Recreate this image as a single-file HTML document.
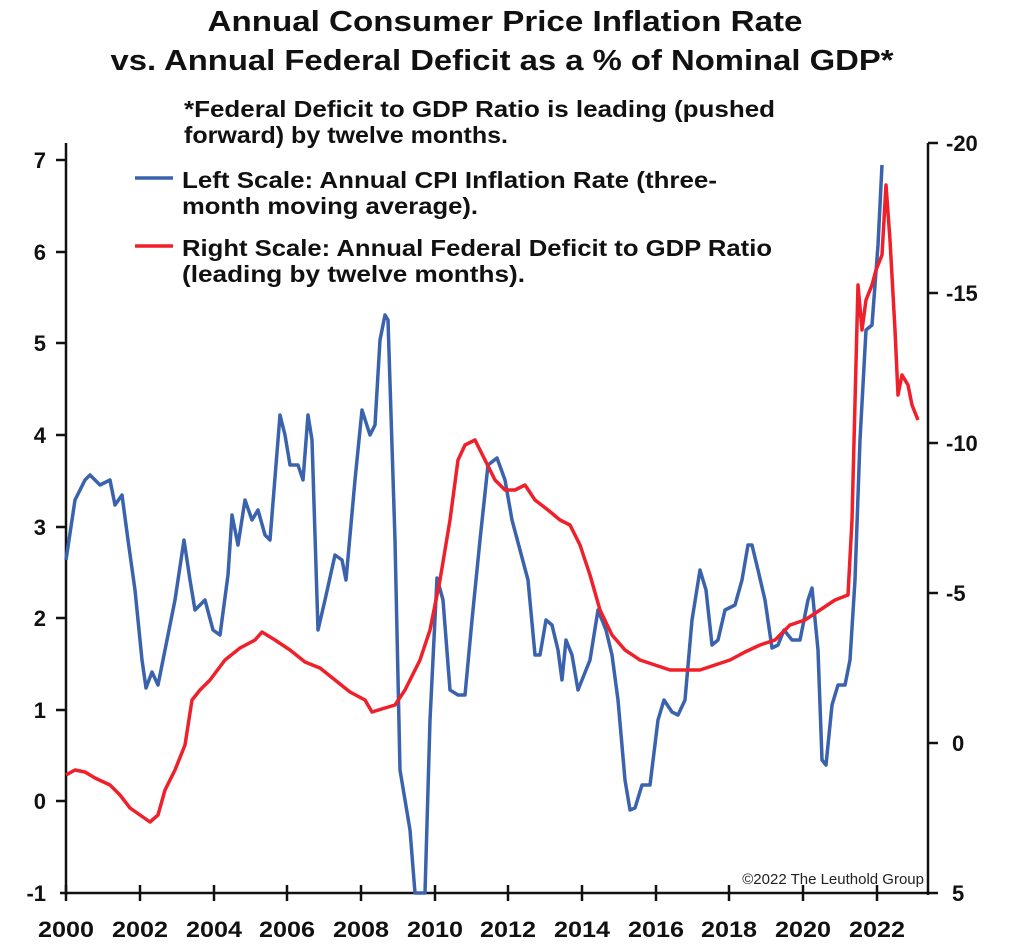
<!DOCTYPE html><html><head><style>body{margin:0;background:#fff}svg{display:block}</style></head><body>
<svg width="1024" height="951" xmlns="http://www.w3.org/2000/svg" font-family="Liberation Sans, sans-serif">
<text x="505" y="31" text-anchor="middle" font-size="29" font-weight="bold" fill="#111" textLength="595" lengthAdjust="spacingAndGlyphs">Annual Consumer Price Inflation Rate</text>
<text x="502" y="70" text-anchor="middle" font-size="29" font-weight="bold" fill="#111" textLength="783" lengthAdjust="spacingAndGlyphs">vs. Annual Federal Deficit as a % of Nominal GDP*</text>
<text x="184" y="117" font-size="23" font-weight="bold" fill="#111" textLength="591" lengthAdjust="spacingAndGlyphs">*Federal Deficit to GDP Ratio is leading (pushed</text>
<text x="184" y="143" font-size="23" font-weight="bold" fill="#111" textLength="324" lengthAdjust="spacingAndGlyphs">forward) by twelve months.</text>
<line x1="135" y1="178" x2="173" y2="178" stroke="#3a62ad" stroke-width="3.5"/>
<text x="182" y="188" font-size="23" font-weight="bold" fill="#111" textLength="535" lengthAdjust="spacingAndGlyphs">Left Scale: Annual CPI Inflation Rate (three-</text>
<text x="182" y="214" font-size="23" font-weight="bold" fill="#111" textLength="296" lengthAdjust="spacingAndGlyphs">month moving average).</text>
<line x1="135" y1="246" x2="173" y2="246" stroke="#f0202a" stroke-width="3.5"/>
<text x="182" y="256" font-size="23" font-weight="bold" fill="#111" textLength="590" lengthAdjust="spacingAndGlyphs">Right Scale: Annual Federal Deficit to GDP Ratio</text>
<text x="182" y="282" font-size="23" font-weight="bold" fill="#111" textLength="343" lengthAdjust="spacingAndGlyphs">(leading by twelve months).</text>
<g stroke="#111" stroke-width="2.5" fill="none">
<line x1="66" y1="143" x2="66" y2="895"/><line x1="928" y1="143" x2="928" y2="895"/>
<line x1="60" y1="893" x2="938" y2="893"/>
<path d="M56 160h10M56 252h10M56 343h10M56 435h10M56 527h10M56 618h10M56 710h10M56 801h10"/>
<path d="M928 143h10M928 293h10M928 443h10M928 593h10M928 743h10"/>
<path d="M66 885v16M140 885v16M214 885v16M287 885v16M361 885v16M435 885v16M508 885v16M582 885v16M656 885v16M729 885v16M803 885v16M877 885v16"/>
</g>
<g font-size="22" font-weight="bold" fill="#111" text-anchor="end">
<text x="46" y="168">7</text><text x="46" y="260">6</text><text x="46" y="351">5</text><text x="46" y="443">4</text><text x="46" y="535">3</text><text x="46" y="626">2</text><text x="46" y="718">1</text><text x="46" y="809">0</text><text x="46" y="901">-1</text>
</g>
<g font-size="22" font-weight="bold" fill="#111">
<text x="946" y="151">-20</text><text x="946" y="301">-15</text><text x="946" y="451">-10</text><text x="946" y="601">-5</text><text x="952" y="751">0</text><text x="952" y="901">5</text>
</g>
<g font-size="22" font-weight="bold" fill="#111" text-anchor="middle">
<text x="66" y="937" textLength="56" lengthAdjust="spacingAndGlyphs">2000</text><text x="140" y="937" textLength="56" lengthAdjust="spacingAndGlyphs">2002</text><text x="214" y="937" textLength="56" lengthAdjust="spacingAndGlyphs">2004</text><text x="287" y="937" textLength="56" lengthAdjust="spacingAndGlyphs">2006</text><text x="361" y="937" textLength="56" lengthAdjust="spacingAndGlyphs">2008</text><text x="435" y="937" textLength="56" lengthAdjust="spacingAndGlyphs">2010</text><text x="508" y="937" textLength="56" lengthAdjust="spacingAndGlyphs">2012</text><text x="582" y="937" textLength="56" lengthAdjust="spacingAndGlyphs">2014</text><text x="656" y="937" textLength="56" lengthAdjust="spacingAndGlyphs">2016</text><text x="729" y="937" textLength="56" lengthAdjust="spacingAndGlyphs">2018</text><text x="803" y="937" textLength="56" lengthAdjust="spacingAndGlyphs">2020</text><text x="877" y="937" textLength="56" lengthAdjust="spacingAndGlyphs">2022</text>
</g>
<text x="924" y="884" text-anchor="end" font-size="15" fill="#222">©2022 The Leuthold Group</text>
<polyline fill="none" stroke="#3a62ad" stroke-width="3.5" stroke-linejoin="round" points="66,560 75,500 85,480 90,475 100,485 110,480 115,505 122,495 128,540 135,590 142,660 146,688 152,672 158,685 165,650 175,600 184,540 190,580 195,610 205,600 213,630 220,635 228,575 232,515 238,545 245,500 252,520 258,510 265,535 270,540 280,415 285,435 290,465 298,465 303,480 308,415 312,440 318,630 325,600 335,555 342,560 346,580 355,480 362,410 370,435 375,425 380,340 385,315 388,320 395,540 400,770 405,800 410,830 415,893 425,893 430,720 437,578 443,600 450,690 458,695 465,695 472,620 480,540 488,465 497,458 505,480 512,520 520,550 528,580 535,655 540,655 546,620 552,625 558,650 562,680 566,640 572,655 578,690 582,680 590,660 598,610 606,630 612,655 618,700 625,780 630,810 635,808 642,785 650,785 658,720 664,700 672,712 678,715 685,700 692,620 700,570 706,590 712,645 718,640 725,610 735,605 742,580 748,545 752,545 758,570 765,600 772,648 778,645 784,630 792,640 800,640 808,600 812,588 818,650 822,760 826,765 832,705 838,685 845,685 850,660 855,580 860,440 866,330 872,325 878,245 882,165"/>
<polyline fill="none" stroke="#f0202a" stroke-width="3.5" stroke-linejoin="round" points="66,775 75,770 85,772 95,778 110,785 120,795 130,808 140,815 150,822 158,815 165,790 175,770 185,745 192,700 200,690 210,680 225,660 240,648 255,640 262,632 275,640 290,650 305,662 320,668 335,680 350,692 365,700 372,712 385,708 395,705 405,690 420,660 430,630 440,580 450,520 458,460 465,445 475,440 485,460 495,480 505,490 515,490 525,485 535,500 548,510 560,520 570,525 580,545 590,575 600,610 612,635 625,650 640,660 655,665 670,670 685,670 700,670 715,665 730,660 745,652 760,645 775,640 790,625 805,620 820,610 835,600 848,595 852,520 858,285 862,330 866,300 872,285 876,270 882,255 886,185 890,240 895,330 898,395 902,375 908,385 912,405 918,420"/>
</svg></body></html>
